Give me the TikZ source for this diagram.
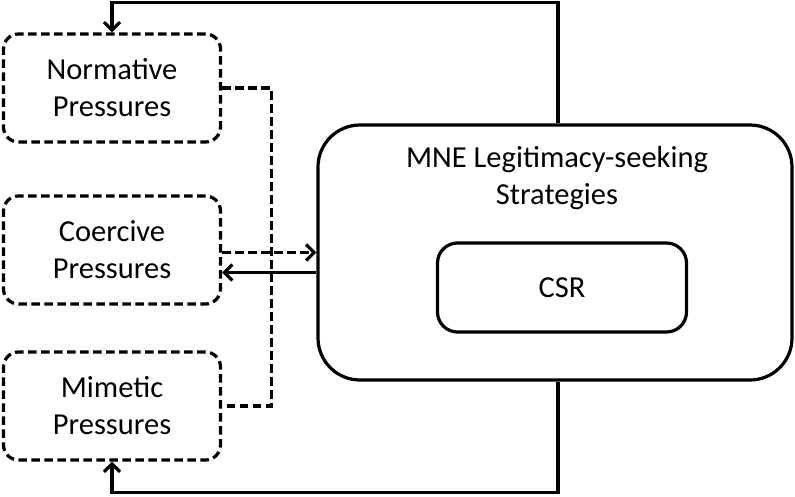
\documentclass[tikz,border=0pt]{standalone}
\usepackage{fontspec}
\setmainfont{Carlito}
\usetikzlibrary{arrows.meta,calc}
\begin{document}
\begin{tikzpicture}[x=1pt,y=-1pt,
  lw/.style={line width=3.2pt},
  dsh/.style={lw,dash pattern=on 8.5pt off 4.5pt},
  arr/.style={-{Straight Barb[length=8pt,width=16pt,line width=3.2pt]}},
  pbox/.style={dsh,draw,rounded corners=15pt,minimum width=217pt,minimum height=108pt,align=center,inner sep=0pt,font=\fontsize{30.5}{37}\selectfont},
  txt/.style={align=center,font=\fontsize{30.5}{37}\selectfont}]
\fill[white] (0,0) rectangle (795,496);
\useasboundingbox (0,0) rectangle (795,496);
\node[pbox] (norm) at (112,88) {Normative\\Pressures};
\node[pbox] (coer) at (112,250) {Coercive\\Pressures};
\node[pbox] (mim) at (112,406) {Mimetic\\Pressures};
\node[lw,draw,rounded corners=42pt,minimum width=474pt,minimum height=255pt,inner sep=0pt] (mne) at (555,252.5) {};
\node[txt] (mnelabel) at (557,178) {MNE Legitimacy-seeking\\Strategies};
\node[lw,draw,rounded corners=20pt,minimum width=249pt,minimum height=89pt,inner sep=0pt,txt] (csr) at (562,287.5) {CSR};
% feedback loops
\draw[lw,arr] ($(mne.north)+(3,0)$) -- ++(0,-121) -| (norm.north);
\draw[lw,arr] ($(mne.south)+(3,0)$) -- ++(0,111) -| (mim.south);
% dashed collectors
\draw[dsh] (norm.east) -| ($(mim.east)+(49,0)$) -- (mim.east);
\draw[dsh,arr] (coer.east |- mne.west) -- (mne.west);
\draw[lw,arr] ($(mne.west)+(0,20)$) -- ($(coer.east |- mne.west)+(0,20)$);
\end{tikzpicture}
\end{document}
